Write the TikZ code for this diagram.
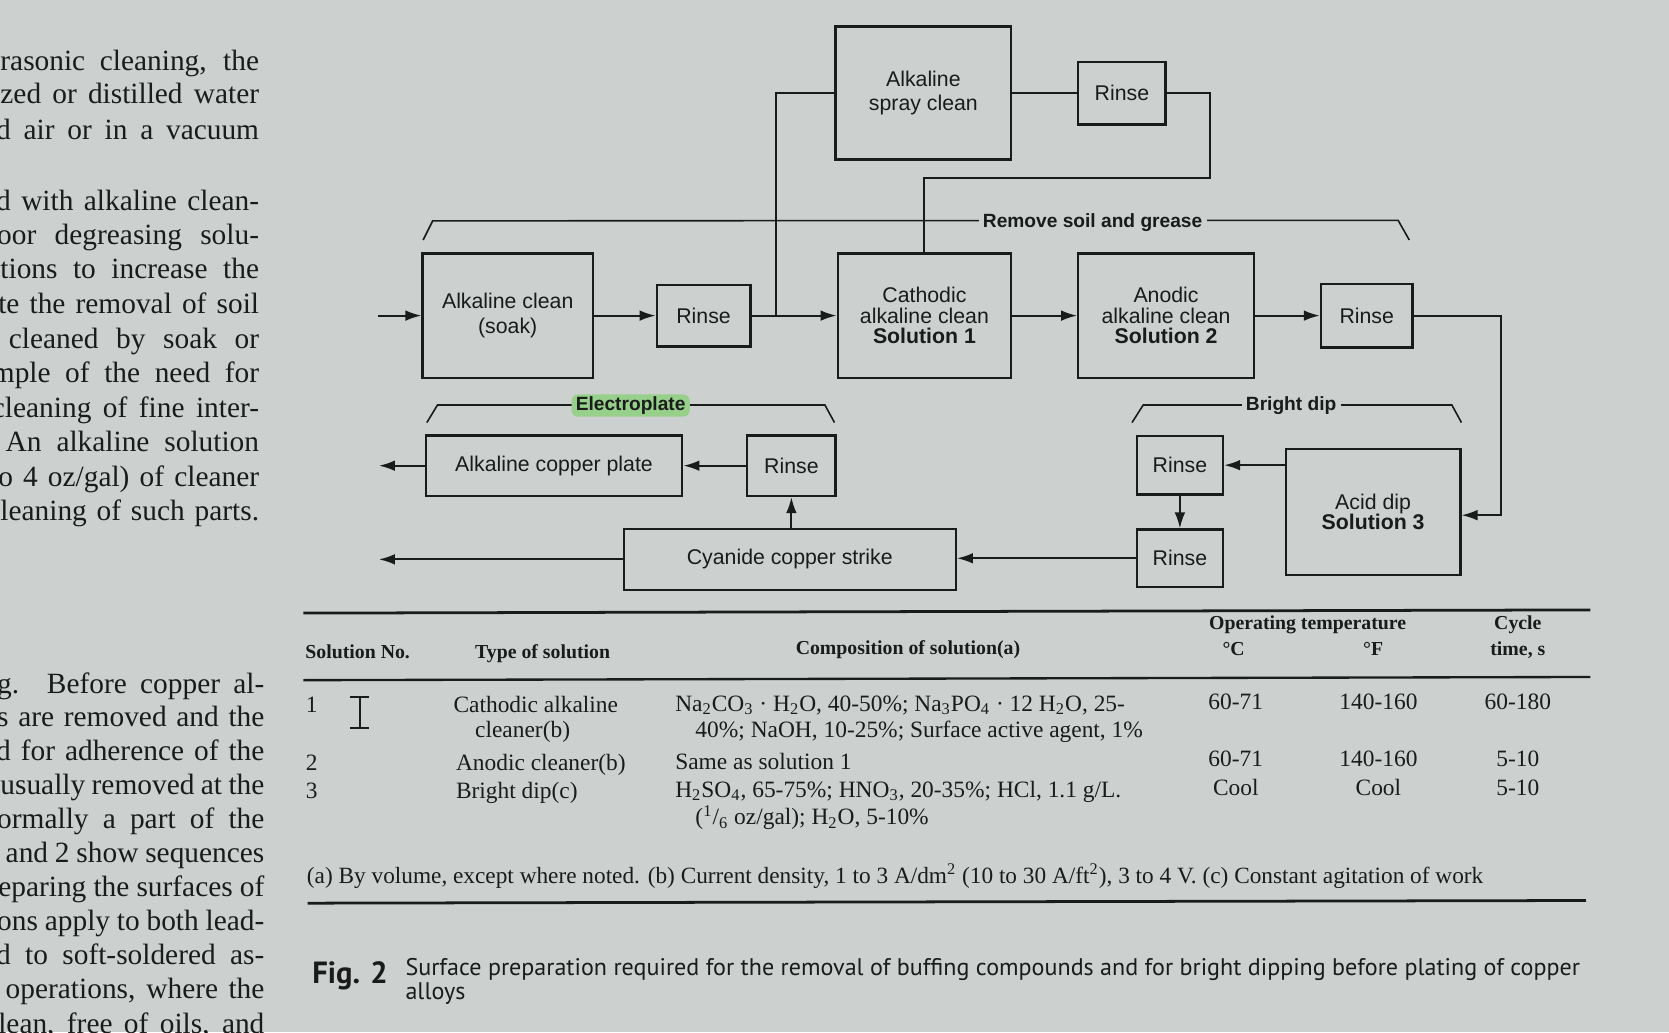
\documentclass[tikz,border=0pt]{standalone}
\usepackage{fontspec}
\setmainfont{Liberation Serif}
\setsansfont{Liberation Sans}
\newfontfamily\capfont{PT Sans}
\usetikzlibrary{arrows.meta}
\definecolor{paper}{RGB}{204,208,206}
\definecolor{ink}{RGB}{26,28,28}
\definecolor{glow}{RGB}{150,208,138}

% one justified line of the running text column
\newcommand{\pline}[4]{\node[body] at (#1,#2) {\makebox[#3pt][s]{#4}};}

\begin{document}
\begin{tikzpicture}[x=0.5pt,y=-0.5pt,
  color=ink, text=ink,
  box/.style={draw, line width=1.1pt, inner sep=0pt, align=center,
    font=\sffamily\fontsize{10}{9.7}\selectfont},
  conn/.style={line width=0.9pt},
  arr/.style={conn, -{Latex[length=7.5pt,width=5pt]}},
  brk/.style={line width=0.75pt},
  brklabel/.style={fill=paper, inner xsep=2pt, inner ysep=1pt,
    font=\sffamily\bfseries\fontsize{9}{10}\selectfont},
  body/.style={anchor=base west, inner sep=0pt, font=\fontsize{13.8}{16}\selectfont},
  tab/.style={anchor=base west, inner sep=0pt, font=\fontsize{11}{12}\selectfont},
  tabc/.style={tab, anchor=base},
  head/.style={anchor=base, inner sep=0pt, font=\bfseries\fontsize{9.3}{11}\selectfont},
  rule/.style={line width=1.3pt}
]
\fill[paper] (0,0) rectangle (1568,970);
\clip (0,0) rectangle (1568,970);

% ---------------- running text column ----------------
\pline{0}{65.8}{121.5}{rasonic cleaning, the}
\pline{0}{97.7}{121.5}{zed or distilled water}
\pline{-4}{130.9}{123.5}{d air or in a vacuum}

\pline{-4}{197.3}{123.5}{d with alkaline clean-}
\pline{-3}{229.7}{123}{oor degreasing solu-}
\pline{0}{262.1}{121.5}{tions to increase the}
\pline{-2}{294.5}{122.5}{te the removal of soil}
\pline{8}{327}{117.5}{cleaned by soak or}
\pline{-8}{359.4}{125.5}{mple of the need for}
\pline{-8}{391.8}{125.5}{cleaning of fine inter-}
\pline{5}{424.3}{119}{An alkaline solution}
\pline{-2}{456.7}{122.5}{o 4 oz/gal) of cleaner}
\pline{0}{489.2}{121.5}{leaning of such parts.}

\pline{-3}{651.4}{125.5}{g. Before copper al-}
\pline{-3}{682.9}{125.5}{s are removed and the}
\pline{-4}{714.3}{126}{d for adherence of the}
\pline{0}{746}{124}{usually removed at the}
\pline{-3}{778}{125.5}{ormally a part of the}
\pline{5}{810}{121.5}{and 2 show sequences}
\pline{-2}{842}{125}{eparing the surfaces of}
\pline{-3}{874}{125.5}{ons apply to both lead-}
\pline{-4}{906}{126}{d to soft-soldered as-}
\pline{5}{938}{121.5}{operations, where the}
\pline{-2}{971}{125}{lean, free of oils, and}

% ---------------- process boxes ----------------
\node[box, minimum width=82.5pt, minimum height=62.5pt,
  font=\sffamily\fontsize{10}{11}\selectfont] (spray) at (867.5,87.5) {Alkaline\\spray clean};
\node[box, minimum width=41pt, minimum height=29.5pt] (rinseA) at (1054,87.5) {Rinse};

\node[box, minimum width=80pt, minimum height=58.5pt,
  font=\sffamily\fontsize{10}{11.5}\selectfont] (soak) at (477,296.5) {Alkaline clean\\(soak)};
\node[box, minimum width=44pt, minimum height=29pt] (rinseB) at (661,296.5) {Rinse};
\node[box, minimum width=81.5pt, minimum height=58.5pt] (cath) at (868.5,296.5)
  {Cathodic\\alkaline clean\\\textbf{Solution 1}};
\node[box, minimum width=82.5pt, minimum height=58.5pt] (anod) at (1095.5,296.5)
  {Anodic\\alkaline clean\\\textbf{Solution 2}};
\node[box, minimum width=43pt, minimum height=30pt] (rinseC) at (1284,296.5) {Rinse};

\node[box, minimum width=120.5pt, minimum height=28.5pt] (plate) at (520.5,437.5) {Alkaline copper plate};
\node[box, minimum width=41.5pt, minimum height=28.5pt] (rinseD) at (743.5,437.5) {Rinse};
\node[box, minimum width=40.5pt, minimum height=27.5pt] (rinseE) at (1108.5,437) {Rinse};
\node[box, minimum width=82pt, minimum height=59pt] (acid) at (1290,481)
  {Acid dip\\\textbf{Solution 3}};
\node[box, minimum width=40.5pt, minimum height=27pt] (rinseF) at (1108.5,524.5) {Rinse};
\node[box, minimum width=156pt, minimum height=28.5pt] (cyan) at (742,525.5) {Cyanide copper strike};

% ---------------- connectors ----------------
\coordinate (in0) at (355,296.5);
\coordinate (j1) at (729,296.5);
\coordinate (t1) at (1137,167);
\coordinate (t2) at (1410,484);
\coordinate (o1) at (356,437.5);
\coordinate (o2) at (356,525.5);

\draw[arr] (in0) -- (soak.west);
\draw[arr] (soak.east) -- (rinseB.west);
\draw[arr] (rinseB.east) -- (cath.west);
\draw[conn] (j1) |- (spray.west);
\draw[conn] (spray.east) -- (rinseA.west);
\draw[conn] (rinseA.east) -| (t1) -| (cath.north);
\draw[arr] (cath.east) -- (anod.west);
\draw[arr] (anod.east) -- (rinseC.west);
\draw[arr] (rinseC.east) -| (t2) -- (t2 -| acid.east);
\draw[arr] (acid.west |- rinseE.east) -- (rinseE.east);
\draw[arr] (rinseE.south) -- (rinseF.north);
\draw[arr] (rinseF.west) -- (rinseF.west -| cyan.east);
\draw[arr] (rinseD.south |- cyan.north) -- (rinseD.south);
\draw[arr] (rinseD.west) -- (plate.east);
\draw[arr] (plate.west) -- (o1);
\draw[arr] (cyan.west) -- (o2);

% ---------------- stage brackets ----------------
\draw[brk] (397.5,225.5) -- (406.5,207.5) -- (1313.5,207) -- (1324,225.5);
\node[brklabel] (lsoil) at (1026.5,209) {Remove soil and grease};

\draw[brk] (401,397) -- (411,380.5) -- (775,380.5) -- (784,397);
\node[brklabel, fill=glow, rounded corners=3pt] (lplate) at (592.5,381) {Electroplate};

\draw[brk] (1063.5,397) -- (1074,380.5) -- (1364,380.5) -- (1373,397);
\node[brklabel] (ldip) at (1213,381) {Bright dip};

% ---------------- table ----------------
\draw[rule] (285,576) -- (1494,573);
\draw[rule, line width=1.1pt] (285,639) -- (1494,636);
\draw[rule] (289,848.5) -- (1490,846);

\node[head, anchor=base west] at (286.5,619) {Solution No.};
\node[head, anchor=base west] at (446,619) {Type of solution};
\node[head] at (853,614.5) {Composition of solution(a)};
\node[head] at (1228.5,591) {Operating temperature};
\node[head] at (1159,615.5) {°C};
\node[head] at (1290,615.5) {°F};
\node[head] at (1426,591) {Cycle};
\node[head] at (1426,615.5) {time, s};

% text cursor resting over the first row
\draw[line width=0.8pt] (329,655) -- (347,655) (338,655) -- (338,684) (329,684) -- (347,684);

\node[tab] at (287,669) {1};
\node[tab] at (425.7,669) {Cathodic alkaline};
\node[tab] at (446,693) {cleaner(b)};
\node[tab] at (634,668) {Na\textsubscript{2}CO\textsubscript{3} · H\textsubscript{2}O, 40-50\%; Na\textsubscript{3}PO\textsubscript{4} · 12 H\textsubscript{2}O, 25-};
\node[tab] at (653,692.5) {40\%; NaOH, 10-25\%; Surface active agent, 1\%};
\node[tabc] at (1161,667) {60-71};
\node[tabc] at (1295,667) {140-160};
\node[tabc] at (1426,667) {60-180};

\node[tab] at (287,723.5) {2};
\node[tab] at (428,723.5) {Anodic cleaner(b)};
\node[tab] at (634,722.5) {Same as solution 1};
\node[tabc] at (1161,720.5) {60-71};
\node[tabc] at (1295,720.5) {140-160};
\node[tabc] at (1426,720.5) {5-10};

\node[tab] at (287,750) {3};
\node[tab] at (428,750) {Bright dip(c)};
\node[tab] at (634,749) {H\textsubscript{2}SO\textsubscript{4}, 65-75\%; HNO\textsubscript{3}, 20-35\%; HCl, 1.1 g/L.};
\node[tab] at (653,775) {(\textsuperscript{1}/\textsubscript{6} oz/gal); H\textsubscript{2}O, 5-10\%};
\node[tabc] at (1161,747) {Cool};
\node[tabc] at (1295,747) {Cool};
\node[tabc] at (1426,747) {5-10};

\node[tab] (fnote) at (288,829.8) {\resizebox{552.5pt}{!}{\fontsize{10}{12}\selectfont (a) By volume, except where noted. (b) Current density, 1 to 3 A/dm\textsuperscript{2} (10 to 30 A/ft\textsuperscript{2}), 3 to 4 V. (c) Constant agitation of work}};

% ---------------- caption ----------------
\node[anchor=base west, inner sep=0pt, font=\capfont\bfseries\fontsize{14.4}{16}\selectfont] (fig) at (293,923.6) {Fig. 2};
\node[anchor=base west, inner sep=0pt, font=\capfont\fontsize{11.3}{11}\selectfont] (cap1) at (380.6,916)
  {Surface preparation required for the removal of buffing compounds and for bright dipping before plating of copper};
\node[anchor=base west, inner sep=0pt, font=\capfont\fontsize{11.3}{11}\selectfont] (cap2) at (380.6,939) {alloys};
\end{tikzpicture}
\end{document}
